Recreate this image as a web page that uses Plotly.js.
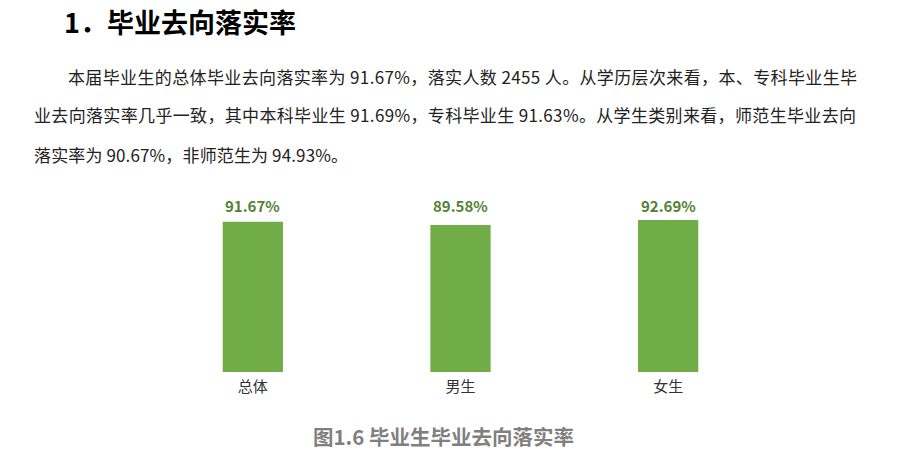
<!DOCTYPE html>
<html>
<head>
<meta charset="utf-8">
<script src="https://cdn.plot.ly/plotly-3.0.1.min.js"></script>
<style>
html,body{margin:0;padding:0;background:#fff;}
#chart{width:916px;height:454px;}
</style>
</head>
<body>
<div id="chart"></div>
<script>
const categories = ["总体", "男生", "女生"];
const rates = [91.67, 89.58, 92.69];
const labels = ["91.67%", "89.58%", "92.69%"];
const heading = "1．毕业去向落实率";
const paragraphLines = [
  "本届毕业生的总体毕业去向落实率为 91.67%，落实人数 2455 人。从学历层次来看，本、专科毕业生毕",
  "业去向落实率几乎一致，其中本科毕业生 91.69%，专科毕业生 91.63%。从学生类别来看，师范生毕业去向",
  "落实率为 90.67%，非师范生为 94.93%。"
];
const caption = "图1.6 毕业生毕业去向落实率";

const W = 916, H = 454;
const M = {l: 149, r: 144, t: 190, b: 82};
const PW = W - M.l - M.r, PH = H - M.t - M.b;
const px = x => (x - M.l) / PW;
const py = y => (H - M.b - y) / PH;
const FONT = '"Noto Sans CJK SC", "Noto Sans", sans-serif';

const annotations = [];
annotations.push({xref:'paper', yref:'paper', x:px(62), y:py(21), xanchor:'left', yanchor:'middle',
  text:'<b>'+heading+'</b>', showarrow:false, font:{family:FONT, size:27, color:'#000'}});
const lineX = [66, 32, 32];
const lineY = [76, 115, 154];
const lineLen = [789, 822, 314];
paragraphLines.forEach((t,i)=>{
  annotations.push({xref:'paper', yref:'paper', x:px(lineX[i]), y:py(lineY[i]), xanchor:'left', yanchor:'middle',
    text:t, showarrow:false, font:{family:FONT, size:17, color:'#222'}});
});
categories.forEach((c,i)=>{
  annotations.push({xref:'x', yref:'paper', x:c, y:py(205), yanchor:'middle',
    text:'<b>'+labels[i]+'</b>', showarrow:false, font:{family:FONT, size:15, color:'#548235'}});
});
annotations.push({xref:'paper', yref:'paper', x:px(443), y:py(436), xanchor:'center', yanchor:'middle',
  text:'<b>'+caption+'</b>', showarrow:false, font:{family:FONT, size:20.5, color:'#808080'}});

const trace = {
  type:'bar', x:categories, y:rates, marker:{color:'#70AD47'}, width:0.29,
  hoverinfo:'none'
};

const layout = {
  width:W, height:H,
  margin:{l:M.l, r:M.r, t:M.t, b:M.b, pad:0},
  paper_bgcolor:'#fff', plot_bgcolor:'#fff',
  showlegend:false,
  xaxis:{showgrid:false, zeroline:false, showline:false, ticks:'', tickfont:{family:FONT, size:15, color:'#333'}, ticklabelstandoff:4},
  yaxis:{range:[0,111], visible:false, showgrid:false, zeroline:false},
  annotations:annotations
};
Plotly.newPlot('chart', [trace], layout, {displayModeBar:false, staticPlot:true}).then(()=>{
  // justify paragraph lines like the source document, keeping the left edge fixed
  const texts = document.querySelectorAll('.annotation-text');
  texts.forEach(el=>{
    const idx = paragraphLines.indexOf(el.textContent);
    if(idx >= 0){
      const before = el.getBBox();
      el.setAttribute('textLength', lineLen[idx]);
      el.setAttribute('lengthAdjust', 'spacing');
      const after = el.getBBox();
      const dx = before.x - after.x;
      const tr = el.getAttribute('transform') || '';
      el.setAttribute('transform', (tr + ' translate(' + dx + ',0)').trim());
    }
  });
});
</script>
</body>
</html>
